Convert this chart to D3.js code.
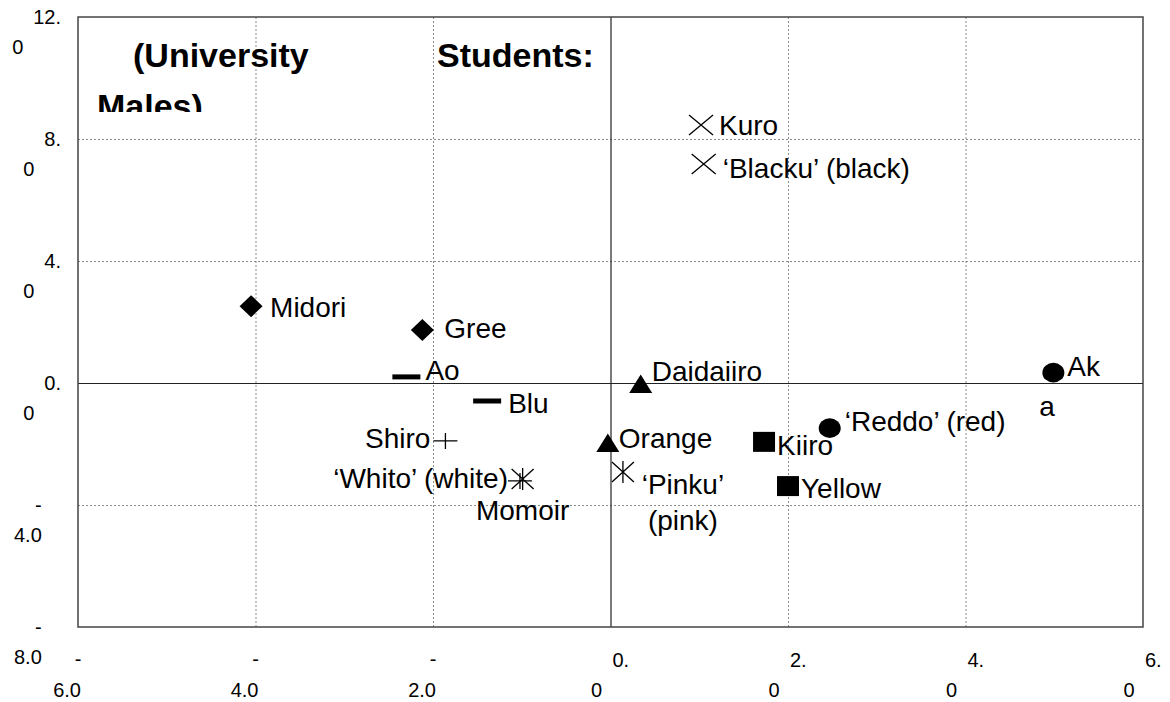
<!DOCTYPE html>
<html>
<head>
<meta charset="utf-8">
<script src="https://cdn.jsdelivr.net/npm/d3@7"></script>
<style>
  html, body { margin: 0; padding: 0; background: #fff; }
  svg { display: block; font-family: "Liberation Sans", Arial, sans-serif; }
</style>
</head>
<body>
<div id="chart"></div>
<script>
// ---- data ----
const pointNames = ["Midori", "Gree", "Ao", "Blu", "Shiro", "‘Whito’ (white)", "Momoiro", "‘Pinku’ (pink)",
  "Daidaiiro", "Orange", "Kiiro", "Yellow", "Aka", "‘Reddo’ (red)", "Kuro", "‘Blacku’ (black)"];
const labelLines = [["Midori"], ["Gree"], ["Ao"], ["Blu"], ["Shiro"], ["‘Whito’ (white)"], ["Momoir"], ["‘Pinku’", "(pink)"],
  ["Daidaiiro"], ["Orange"], ["Kiiro"], ["Yellow"], ["Ak", "a"], ["‘Reddo’ (red)"], ["Kuro"], ["‘Blacku’ (black)"]];
const xValues = [-4.05, -2.12, -2.30, -1.39, -1.86, -1.02, -0.99, 0.14, 0.34, -0.03, 1.73, 2.00, 4.99, 2.47, 1.02, 1.05];
const yValues = [2.52, 1.74, 0.20, -0.59, -1.90, -3.21, -3.15, -2.92, -0.03, -1.97, -1.93, -3.38, 0.34, -1.48, 8.46, 7.18];
const markerTypes = ["diamond", "diamond", "dash", "dash", "plus", "plus", "asterisk", "asterisk",
  "triangle", "triangle", "square", "square", "circle", "circle", "cross", "cross"];

const xTicks = [-6, -4, -2, 0, 2, 4, 6];
const xTickLabels = [["-", "6.0"], ["-", "4.0"], ["-", "2.0"], ["0.", "0"], ["2.", "0"], ["4.", "0"], ["6.", "0"]];
const yTicks = [-8, -4, 0, 4, 8, 12];
const yTickLabels = [["-", "8.0"], ["-", "4.0"], ["0.", "0"], ["4.", "0"], ["8.", "0"], ["12.", "0"]];

const titleWords = ["(University", "Students:", "Males)"];

// ---- layout (positions / styles) ----
const W = 1170, H = 702;
const plot = { left: 78, right: 1143, top: 17, bottom: 627 };
const labelLayout = [
  { anchor: "start", pos: [[19, 11]] },
  { anchor: "start", pos: [[22, 8]] },
  { anchor: "start", pos: [[19, 3]] },
  { anchor: "start", pos: [[21, 12]] },
  { anchor: "end", pos: [[-15, 7]] },
  { anchor: "end", pos: [[-12, 7]] },
  { anchor: "middle", pos: [[0, 41]] },
  { anchor: "middle", pos: [[60, 22], [60, 58]] },
  { anchor: "start", pos: [[11, -3]] },
  { anchor: "start", pos: [[11, 5]] },
  { anchor: "start", pos: [[13, 13]] },
  { anchor: "start", pos: [[13, 12]] },
  { anchor: "start", pos: [[14, 3], [-14, 43]] },
  { anchor: "start", pos: [[15, 3]] },
  { anchor: "start", pos: [[18, 10]] },
  { anchor: "start", pos: [[19, 14]] }
];
const titleLayout = [[133, 67], [437, 67], [97, 118]];

const svg = d3.select("#chart").append("svg")
  .attr("width", W).attr("height", H)
  .attr("viewBox", `0 0 ${W} ${H}`);
svg.append("rect").attr("width", W).attr("height", H).attr("fill", "#fff");

const x = d3.scaleLinear().domain([-6, 6]).range([plot.left, plot.right]);
const y = d3.scaleLinear().domain([-8, 12]).range([plot.bottom, plot.top]);

// gridlines
const g = svg.append("g");
g.selectAll("line.vgrid").data(xTicks.filter(t => t !== 0 && t !== -6 && t !== 6)).join("line")
  .attr("class", "vgrid")
  .attr("x1", d => x(d) + 0.5).attr("x2", d => x(d) + 0.5)
  .attr("y1", plot.top).attr("y2", plot.bottom)
  .attr("stroke", "#8a8a8a").attr("stroke-width", 1).attr("stroke-dasharray", "2,2");
g.selectAll("line.hgrid").data(yTicks.filter(t => t !== 0 && t !== -8 && t !== 12)).join("line")
  .attr("class", "hgrid")
  .attr("x1", plot.left).attr("x2", plot.right)
  .attr("y1", d => y(d) + 0.5).attr("y2", d => y(d) + 0.5)
  .attr("stroke", "#8a8a8a").attr("stroke-width", 1).attr("stroke-dasharray", "2,2");

// zero axes
g.append("line").attr("x1", x(0) + 0.5).attr("x2", x(0) + 0.5).attr("y1", plot.top).attr("y2", plot.bottom)
  .attr("stroke", "#222").attr("stroke-width", 1.2);
g.append("line").attr("x1", plot.left).attr("x2", plot.right).attr("y1", y(0) + 0.5).attr("y2", y(0) + 0.5)
  .attr("stroke", "#222").attr("stroke-width", 1.2);

// border
g.append("rect").attr("x", plot.left).attr("y", plot.top)
  .attr("width", plot.right - plot.left).attr("height", plot.bottom - plot.top)
  .attr("fill", "none").attr("stroke", "#444").attr("stroke-width", 1.5);

// title (clipped)
svg.append("clipPath").attr("id", "titleClip").append("rect")
  .attr("x", 0).attr("y", 0).attr("width", W).attr("height", 112);
svg.append("g").attr("clip-path", "url(#titleClip)")
  .selectAll("text").data(titleWords).join("text")
  .attr("x", (d, i) => titleLayout[i][0]).attr("y", (d, i) => titleLayout[i][1])
  .attr("font-size", 34).attr("font-weight", "bold").attr("fill", "#000")
  .text(d => d);

// y tick labels
const yl = svg.append("g").attr("font-size", 20).attr("fill", "#000");
yTicks.forEach((t, i) => {
  const [l1, l2] = yTickLabels[i];
  const ty = y(t);
  const a = yl.append("text").attr("y", ty + 7).text(l1);
  let startX;
  if (l1 === "-") { a.attr("x", 35); startX = 35; }
  else { a.attr("x", 61).attr("text-anchor", "end"); startX = 61 - a.node().getComputedTextLength(); }
  yl.append("text").attr("x", startX - 21).attr("y", ty + 37).text(l2);
});

// x tick labels
const xl = svg.append("g").attr("font-size", 20).attr("fill", "#000");
xTicks.forEach((t, i) => {
  const [l1, l2] = xTickLabels[i];
  const tx = x(t);
  if (l1 === "-") {
    xl.append("text").attr("x", tx).attr("y", 666).attr("text-anchor", "middle").text(l1);
    xl.append("text").attr("x", tx + 3).attr("y", 697).attr("text-anchor", "end").text(l2);
  } else {
    xl.append("text").attr("x", tx + 2).attr("y", 667).text(l1);
    xl.append("text").attr("x", tx - 14).attr("y", 697).attr("text-anchor", "middle").text(l2);
  }
});

// markers
function markerPath(type) {
  switch (type) {
    case "diamond": return "M0,-11L11.5,0L0,11L-11.5,0Z";
    case "triangle": return "M0,-9.5L11.5,9L-11.5,9Z";
    case "square": return "M-11,-10H11V10H-11Z";
    case "circle": return "M-11,0A11,9.8 0 1,0 11,0A11,9.8 0 1,0 -11,0Z";
    case "dash": return "M-14,-2.5H14V2.5H-14Z";
    case "plus": return "M-12,0H12M0,-8V8";
    case "cross": return "M-12,-10L12,10M-12,10L12,-10";
    case "asterisk": return "M-11,-10L11,10M-11,10L11,-10M0,-11V11";
  }
}
const filled = new Set(["diamond", "triangle", "square", "circle", "dash"]);
const idx = d3.range(pointNames.length);
svg.append("g").selectAll("path").data(idx).join("path")
  .attr("transform", i => `translate(${x(xValues[i])},${y(yValues[i])})`)
  .attr("d", i => markerPath(markerTypes[i]))
  .attr("fill", i => filled.has(markerTypes[i]) ? "#000" : "none")
  .attr("stroke", "#000")
  .attr("stroke-width", i => filled.has(markerTypes[i]) ? 0 : 1.3);

// labels
const lab = svg.append("g").attr("font-size", 28).attr("fill", "#000");
idx.forEach(i => {
  const px = x(xValues[i]), py = y(yValues[i]);
  const L = labelLayout[i];
  labelLines[i].forEach((line, k) => {
    const p = L.pos[k] || L.pos[0];
    lab.append("text")
      .attr("x", px + p[0]).attr("y", py + p[1])
      .attr("text-anchor", L.anchor)
      .text(line);
  });
});
</script>
</body>
</html>
